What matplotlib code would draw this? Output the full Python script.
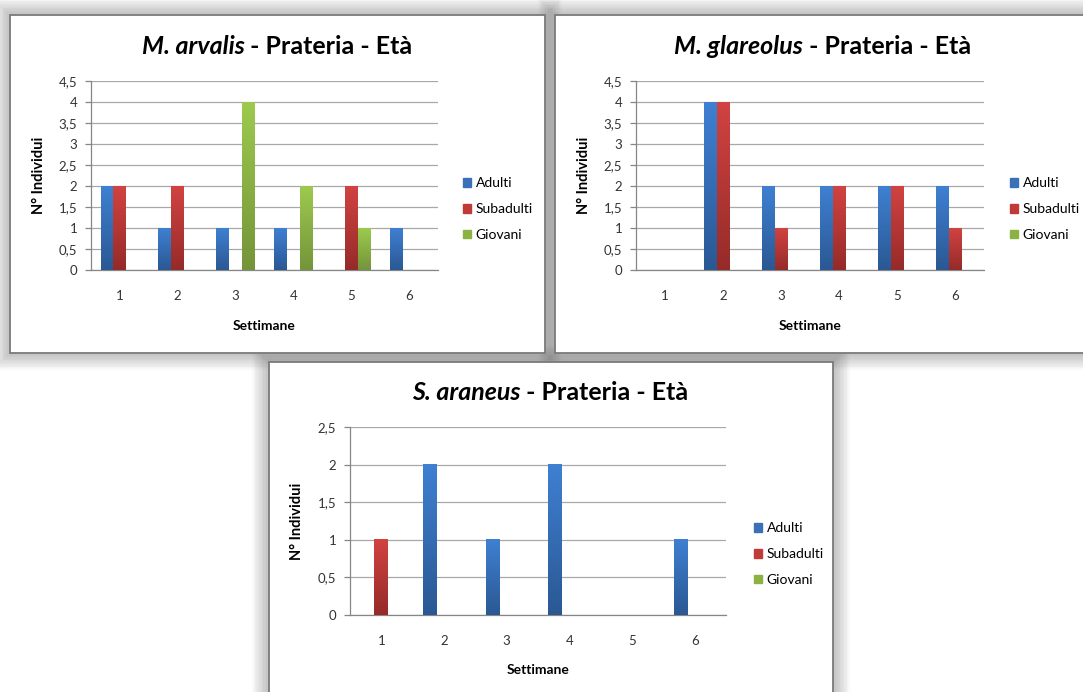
import matplotlib
matplotlib.use('Agg')
import matplotlib.pyplot as plt
import numpy as np
from matplotlib.patches import Rectangle
from matplotlib.colors import LinearSegmentedColormap
from matplotlib.offsetbox import TextArea, HPacker, AnnotationBbox
from matplotlib.ticker import FuncFormatter, MultipleLocator

plt.rcParams['font.family'] = ['Lato', 'DejaVu Sans']

# Data
weeks = [1, 2, 3, 4, 5, 6]
series = ['Adulti', 'Subadulti', 'Giovani']

arvalis_adulti = [2, 1, 1, 1, 0, 1]
arvalis_subadulti = [2, 2, 0, 0, 2, 0]
arvalis_giovani = [0, 0, 4, 2, 1, 0]

glareolus_adulti = [0, 4, 2, 2, 2, 2]
glareolus_subadulti = [0, 4, 1, 2, 2, 1]
glareolus_giovani = [0, 0, 0, 0, 0, 0]

araneus_adulti = [0, 2, 1, 2, 0, 1]
araneus_subadulti = [1, 0, 0, 0, 0, 0]
araneus_giovani = [0, 0, 0, 0, 0, 0]

# bar colours (top, bottom of gradient) and legend colour
tops = ['#3f80d2', '#d14341', '#9dca4e']
bottoms = ['#2a5893', '#952b29', '#74943a']
mids = ['#3a70b8', '#c03a38', '#8ab344']
cmaps = [LinearSegmentedColormap.from_list('c%d' % i, [bottoms[i], tops[i]]) for i in range(3)]
grad = np.linspace(0, 1, 256).reshape(-1, 1)

W, H = 1083, 692
fig = plt.figure(figsize=(W / 100, H / 100), dpi=100)
fig.patch.set_facecolor('white')


def frac_rect(x0, y0, x1, y1):
    return [x0 / W, 1 - y1 / H, (x1 - x0) / W, (y1 - y0) / H]


def panel(x0, y0, x1, y1):
    # soft shadow then white frame (behind the axes)
    for i in range(12, 0, -1):
        d = i * 1.4
        l, b, w, h = frac_rect(x0 - d, y0 - d, x1 + d, y1 + d)
        fig.patches.append(Rectangle((l, b), w, h, transform=fig.transFigure, zorder=-2,
                                     facecolor='#505050', edgecolor='none', alpha=0.03))
    l, b, w, h = frac_rect(x0, y0, x1, y1)
    fig.patches.append(Rectangle((l, b), w, h, transform=fig.transFigure, zorder=-1,
                                 facecolor='white', edgecolor='#7a7a7a', lw=1.3))


def title(cx, cy, italic, rest):
    a = TextArea(italic, textprops=dict(fontsize=18, fontweight='bold', fontstyle='italic'))
    b = TextArea(rest, textprops=dict(fontsize=18, fontweight='bold'))
    box = HPacker(children=[a, b], align='baseline', pad=0, sep=0)
    ab = AnnotationBbox(box, (cx / W, 1 - cy / H), xycoords='figure fraction',
                        frameon=False, box_alignment=(0.5, 0.5))
    fig.add_artist(ab)


def chart(box, adulti, subadulti, giovani, ymax, leg_xy, ylab_x, xlab_y):
    ax = fig.add_axes(frac_rect(*box))
    ax.patch.set_alpha(0)
    bw = 1 / 4.5
    x = np.array(weeks)
    for k, v in enumerate([adulti, subadulti, giovani]):
        bars = ax.bar(x + (k - 1) * bw, v, width=bw, color=tops[k], zorder=2)
        for b in bars:
            h = b.get_height()
            if h <= 0:
                continue
            ax.imshow(grad, extent=[b.get_x(), b.get_x() + b.get_width(), 0, h],
                      cmap=cmaps[k], aspect='auto', origin='lower', zorder=3)
    ax.set_xlim(0.5, 6.5)
    ax.set_ylim(0, ymax)
    ax.set_xticks(weeks)
    ax.yaxis.set_major_locator(MultipleLocator(0.5))
    ax.yaxis.set_major_formatter(FuncFormatter(lambda v, p: ('%g' % v).replace('.', ',')))
    ax.grid(axis='y', color='#a8a8a8', lw=0.9)
    ax.set_axisbelow(True)
    for s in ['top', 'right']:
        ax.spines[s].set_visible(False)
    for s in ['left', 'bottom']:
        ax.spines[s].set_color('#868686')
        ax.spines[s].set_linewidth(0.9)
    ax.tick_params(axis='x', length=0, pad=14.5, labelsize=9.5, labelcolor='#333333')
    ax.tick_params(axis='y', length=4, width=0.9, color='#868686', pad=6,
                   labelsize=9.5, labelcolor='#333333')
    ax.set_xlabel('Settimane', fontsize=10, fontweight='bold')
    ax.set_ylabel('N° Individui', fontsize=10.5, fontweight='bold')
    ax.xaxis.set_label_coords(0.5, xlab_y)
    ax.yaxis.set_label_coords(ylab_x, 0.5)
    handles = [Rectangle((0, 0), 1, 1, color=c) for c in mids]
    ax.legend(handles, series, loc='center left',
              bbox_to_anchor=(leg_xy[0] / W, 1 - leg_xy[1] / H), bbox_transform=fig.transFigure,
              frameon=False, fontsize=10, handlelength=0.6, handleheight=0.6,
              handletextpad=0.3, labelspacing=1.0, borderpad=0, borderaxespad=0)
    return ax


panel(10, 15, 545, 353)
panel(555, 15, 1100, 353)
panel(269, 362, 833, 720)

chart((91, 81, 438, 270), arvalis_adulti, arvalis_subadulti, arvalis_giovani, 4.5, (463, 209), -0.13, -0.265)
chart((636, 81, 984, 270), glareolus_adulti, glareolus_subadulti, glareolus_giovani, 4.5, (1010, 209), -0.13, -0.265)
chart((350, 427, 726, 615), araneus_adulti, araneus_subadulti, araneus_giovani, 2.5, (754, 554), -0.122, -0.26)

title(277, 47, 'M. arvalis', ' - Prateria - Età')
title(823, 47, 'M. glareolus', ' - Prateria - Età')
title(550, 392, 'S. araneus', ' - Prateria - Età')

fig.savefig('out.png', dpi=100)
